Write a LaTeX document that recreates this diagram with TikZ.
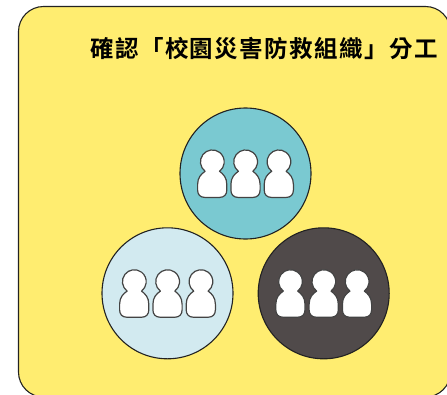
\documentclass[tikz,border=0pt]{standalone}
\usepackage{fontspec}
\usepackage{xcolor}
\usetikzlibrary{calc}
\newfontfamily\titlefont[LetterSpace=6,BoldFont={Noto Sans CJK TC Bold}]{Noto Sans CJK TC}
\definecolor{PanelYellow}{HTML}{FFED70}
\definecolor{TeamTeal}{HTML}{7AC9D1}
\definecolor{TeamPale}{HTML}{D2EAF0}
\definecolor{TeamDark}{HTML}{504A4A}
\definecolor{EdgeDark}{HTML}{222222}

\begin{document}
\begin{tikzpicture} [x=1pt, y=-1pt,
				panel/.style={
				% The shape:
				rectangle, rounded corners=25pt,
				% The size:
				minimum width=432pt, minimum height=390.5pt,
				% The border:
				line width=1.1pt, draw=EdgeDark,
				% The filling:
				fill=PanelYellow
				},
				team/.style={
				% The shape:
				circle,
				% The size:
				minimum size=131pt, inner sep=0pt,
				% The border:
				line width=1.1pt, draw=EdgeDark
				},
				person/.pic={
				\draw [line width=1.2pt, draw=EdgeDark!85, fill=white, line join=round]
					(-7.1,9.3) arc [start angle=127.4, end angle=412.6, radius=11.9]
					.. controls (11,12) and (14.6,15.5) .. (14.6,22.5) -- (14.6,28)
					.. controls (14.6,32.5) and (12,35.4) .. (7.5,35.4) -- (-7.5,35.4)
					.. controls (-12,35.4) and (-14.6,32.5) .. (-14.6,28) -- (-14.6,22.5)
					.. controls (-14.6,15.5) and (-11,12) .. cycle;
				}
				]
    \useasboundingbox (0,0) rectangle (447,394);
    \clip (0,0) rectangle (447,394);
    \node [panel] (panel) at (234.5,201.75) {};
    \node [font=\titlefont\bfseries\fontsize{23.5}{28}\selectfont, text=black] (title) at (264,48.5) {確認「校園災害防救組織」分工};
    % the three teams
    \node [team, fill=TeamTeal] (teamTop) at (245.5,173.5) {};
    \node [team, fill=TeamPale] (teamLeft) at (167.5,293.3) {};
    \node [team, fill=TeamDark] (teamRight) at (323.7,293.3) {};
    \foreach \team in {teamTop,teamLeft,teamRight}
        \foreach \shift in {-33.3,0,33.3}
            \pic at ($(\team)+(\shift,-11.5)$) {person};
\end{tikzpicture}
\end{document}
